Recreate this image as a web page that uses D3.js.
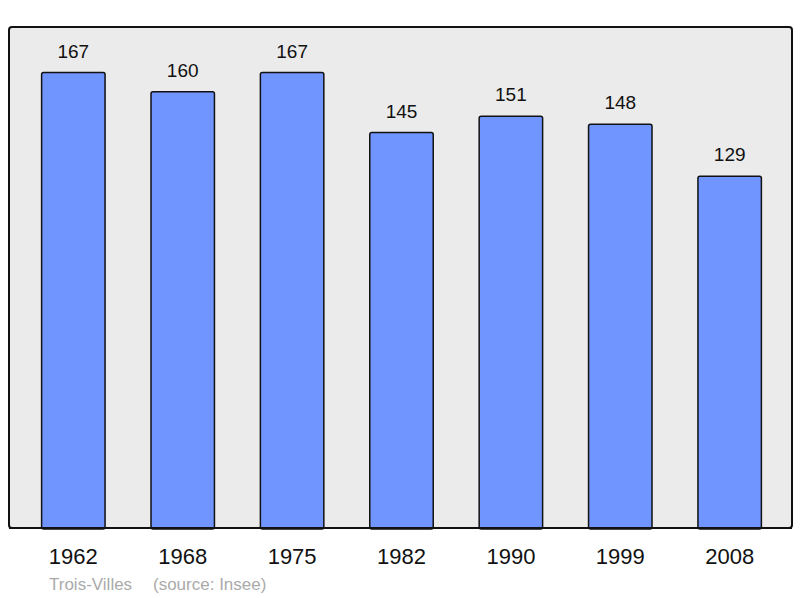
<!DOCTYPE html>
<html><head><meta charset="utf-8">
<script src="https://cdn.jsdelivr.net/npm/d3@7"></script>
<style>body{margin:0;background:#fff}svg{display:block;font-family:"Liberation Sans",Arial,sans-serif}</style>
</head><body>
<script>
const years = ["1962","1968","1975","1982","1990","1999","2008"];
const population = [167,160,167,145,151,148,129];
const commune = "Trois-Villes";
const source = "(source: Insee)";

const W=800,H=598;
const svg=d3.select("body").append("svg").attr("width",W).attr("height",H);
const pL=9, pR=792, pT=27, pB=528;

svg.append("rect").attr("x",pL).attr("y",pT).attr("width",pR-pL).attr("height",pB-pT)
  .attr("rx",3).attr("fill","#ebebeb").attr("stroke","#111").attr("stroke-width",2);

const x=d3.scaleBand().domain(years).range([pL+1,pR+1]).paddingInner(0.42).paddingOuter(0.289);
const y=d3.scaleLinear().domain([0,d3.max(population)*1.1]).range([pB,pT]);

const g=svg.append("g");
g.selectAll("rect.bar").data(years).join("rect").attr("class","bar")
  .attr("x",d=>x(d)).attr("width",x.bandwidth())
  .attr("y",(d,i)=>y(population[i])).attr("height",(d,i)=>pB-y(population[i])+1)
  .attr("rx",2).attr("fill","#7095ff").attr("stroke","#111").attr("stroke-width",1.5);

g.selectAll("text.val").data(years).join("text").attr("class","val")
  .attr("x",d=>x(d)+x.bandwidth()/2).attr("y",(d,i)=>y(population[i])-15)
  .attr("text-anchor","middle").attr("font-size",19).attr("fill","#111")
  .text((d,i)=>population[i]);

svg.append("line").attr("x1",pL).attr("x2",pR).attr("y1",pB).attr("y2",pB).attr("stroke","#111").attr("stroke-width",2);

const axis=d3.axisBottom(x).tickSize(0).tickPadding(0);
const ag=svg.append("g").attr("transform",`translate(0,${pB})`).call(axis);
ag.select(".domain").remove();
ag.selectAll("text").attr("font-size",22).attr("fill","#111").attr("font-family","Liberation Sans, Arial, sans-serif")
  .attr("dy",null).attr("y",36);

svg.append("text").attr("x",49).attr("y",590).attr("font-size",17).attr("fill","#aaa").text(commune);
svg.append("text").attr("x",153).attr("y",590).attr("font-size",17).attr("fill","#aaa").text(source);
</script>
</body></html>
